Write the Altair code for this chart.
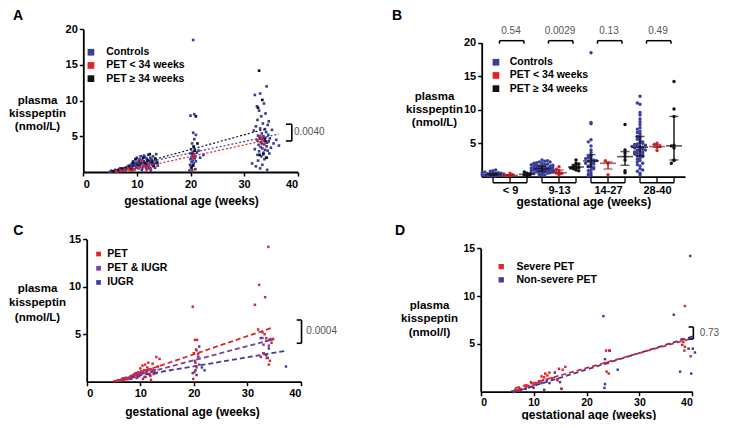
import json
import numpy as np
import pandas as pd
import altair as alt

FONT = "Liberation Sans"

# ---------------- data ----------------
groups_ab = ["Controls", "PET < 34 weeks", "PET \u2265 34 weeks"]

ctrl_early = [
    (5.0, 0.05), (5.3, 0.10), (5.5, 0.10), (5.8, 0.15), (6.0, 0.20), (6.2, 0.20), (6.4, 0.25), (6.6, 0.30),
    (6.8, 0.20), (6.9, 0.50), (7.0, 0.35), (7.1, 0.40), (7.3, 0.30), (7.5, 0.50), (7.6, 0.25), (7.7, 0.45),
    (7.9, 0.60), (8.0, 0.35), (8.2, 0.70), (8.3, 0.50), (8.4, 0.60), (8.5, 0.90), (8.6, 0.40), (8.8, 0.80),
    (8.9, 1.00), (9.0, 0.60), (9.1, 1.20), (9.2, 0.80), (9.2, 0.30), (9.3, 1.50), (9.4, 0.90), (9.5, 1.10),
    (9.6, 0.40), (9.6, 1.00), (9.7, 1.80), (9.8, 1.30), (9.9, 0.70), (10.0, 2.00), (10.0, 0.70), (10.1, 1.00),
    (10.2, 1.40), (10.3, 0.50), (10.4, 1.60), (10.5, 1.20), (10.5, 1.80), (10.6, 0.90), (10.7, 2.20),
    (10.8, 1.10), (10.8, 1.50), (10.9, 0.30), (11.0, 1.70), (11.0, 0.50), (11.1, 1.30), (11.2, 0.80),
    (11.3, 1.50), (11.3, 2.30), (11.4, 1.00), (11.5, 2.10), (11.5, 0.90), (11.6, 1.20), (11.7, 0.60),
    (11.8, 1.90), (11.8, 1.00), (11.9, 1.40), (12.0, 0.90), (12.0, 1.70), (12.1, 2.40), (12.2, 1.10),
    (12.2, 0.50), (12.3, 0.70), (12.4, 1.60), (12.5, 1.30), (12.5, 2.00), (12.6, 0.20), (12.7, 1.80),
    (12.8, 1.00), (12.9, 1.50), (13.0, 2.20), (13.0, 1.10), (13.1, 0.80), (13.3, 1.20), (13.4, 0.60),
    (13.5, 1.70), (13.6, 2.50), (13.7, 1.40), (13.9, 0.90),
]
ctrl_mid = [
    (19.8, 0.2), (19.9, 1.0), (20.0, 1.8), (20.0, 2.6), (20.1, 0.6), (20.1, 3.2), (20.2, 1.4), (20.2, 2.1),
    (20.3, 4.0), (20.3, 0.9), (20.4, 2.8), (20.4, 1.6), (20.5, 5.5), (20.5, 2.3), (20.5, 18.5), (20.6, 3.6),
    (20.6, 1.2), (20.7, 2.5), (20.7, 4.6), (20.8, 1.9), (20.8, 3.0), (20.9, 0.4), (20.9, 2.2), (21.0, 5.2),
    (21.0, 1.5), (20.0, 7.9), (20.7, 8.1), (21.2, 2.7), (21.8, 2.0), (22.4, 2.4), (21.5, 3.0), (20.3, 0.1),
]
ctrl_late = [
    (31.5, 1.2), (31.8, 5.8), (32.0, 10.8), (32.0, 3.2), (32.2, 6.4), (32.2, 0.8), (32.4, 9.2), (32.4, 4.5),
    (32.5, 2.4), (32.5, 7.3), (32.6, 1.6), (32.6, 5.1), (32.7, 3.8), (32.8, 8.6), (32.8, 2.9), (32.9, 4.9),
    (33.0, 0.5), (33.0, 6.1), (33.0, 11.0), (33.1, 3.5), (33.1, 4.2), (33.2, 7.8), (33.2, 2.2), (33.3, 5.4),
    (33.3, 4.0), (33.4, 1.0), (33.4, 3.3), (33.5, 6.8), (33.5, 4.6), (33.6, 2.7), (33.6, 5.0), (33.7, 9.6),
    (33.7, 3.9), (33.8, 4.4), (33.8, 1.8), (33.9, 6.0), (33.9, 3.1), (34.0, 8.2), (34.0, 4.8), (34.1, 2.0),
    (34.1, 5.6), (34.2, 3.6), (34.2, 12.0), (34.3, 4.1), (34.3, 0.3), (34.4, 6.6), (34.4, 3.0), (34.5, 5.2),
    (34.6, 4.3), (34.6, 7.1), (34.7, 2.6), (34.8, 4.7), (35.0, 3.4), (35.2, 5.9), (35.5, 4.0), (36.0, 4.5),
    (36.5, 3.7),
]
pet_lt34 = [
    (6.2, 0.1), (7.0, 0.2), (7.8, 0.3), (8.4, 0.5), (8.8, 0.2), (9.5, 0.4), (10.2, 0.6), (10.8, 1.5),
    (11.3, 0.9), (11.8, 0.3), (12.2, 1.1), (12.6, 0.5), (20.3, 0.3), (20.6, 2.4), (20.5, 2.0),
    (32.5, 4.4), (33.0, 5.0), (33.5, 4.5), (33.8, 3.9), (33.2, 4.8),
]
pet_ge34 = [
    (5.5, 0.1), (6.5, 0.2), (7.2, 0.5), (7.9, 0.3), (8.5, 0.7), (8.9, 0.4), (9.3, 1.3), (9.8, 1.8),
    (10.3, 1.0), (10.7, 1.5), (11.2, 2.0), (11.6, 1.2), (12.0, 1.6), (12.4, 2.5), (12.8, 1.4), (13.1, 0.9),
    (13.4, 1.9), (13.8, 1.3), (20.2, 0.6), (20.5, 0.9), (20.8, 3.0), (21.0, 7.8), (20.4, 2.5), (21.3, 4.0),
    (20.6, 3.5), (32.8, 14.2), (33.4, 10.1), (32.6, 9.0), (33.0, 4.7), (34.0, 4.3), (33.8, 4.6),
    (33.6, 2.5), (34.2, 2.0), (32.9, 2.4),
]
p_a = "0.0040"

b_bins = ["< 9", "9-13", "14-27", "28-40"]
b_edges = [9, 14, 28]
b_pvals = ["0.54", "0.0029", "0.13", "0.49"]

groups_c = ["IUGR", "PET & IUGR", "PET"]
c_iugr = [
    (6.5, 0.2), (7.0, 0.3), (7.8, 0.4), (8.3, 0.3), (8.8, 0.5), (9.3, 0.7), (9.8, 0.6), (10.3, 0.9),
    (10.8, 0.5), (11.3, 1.1), (11.8, 0.7), (12.3, 1.2), (13.0, 0.9), (19.8, 0.9), (20.3, 1.2), (20.5, 0.7),
    (21.0, 3.7), (21.5, 1.5), (22.0, 1.2), (20.8, 2.6), (32.5, 4.6), (33.0, 3.0), (33.5, 2.8), (34.0, 3.5),
    (33.8, 2.5), (37.2, 1.6),
]
c_pet_iugr = [
    (6.0, 0.1), (6.6, 0.15), (7.0, 0.2), (7.5, 0.3), (8.0, 0.3), (8.5, 0.6), (9.0, 0.8), (9.3, 0.4),
    (9.5, 0.5), (10.0, 0.9), (10.5, 1.0), (11.0, 1.2), (11.5, 0.8), (12.0, 1.3), (12.5, 1.1), (20.5, 3.3),
    (20.8, 2.6), (21.0, 1.8), (20.2, 2.2), (32.8, 4.6), (33.5, 4.3), (34.0, 3.8), (34.3, 4.5), (33.0, 3.9),
    (34.5, 4.4),
]
c_pet = [
    (5.2, 0.05), (5.6, 0.1), (6.0, 0.1), (6.3, 0.15), (6.8, 0.2), (7.2, 0.3), (7.6, 0.25), (8.0, 0.4),
    (8.3, 0.6), (8.6, 0.5), (8.9, 0.8), (9.2, 0.9), (9.4, 0.4), (9.6, 1.0), (9.8, 0.7), (10.0, 1.4),
    (10.2, 1.1), (10.4, 1.7), (10.5, 0.3), (10.7, 1.2), (10.9, 1.8), (11.1, 0.9), (11.3, 1.5), (11.5, 2.0),
    (11.7, 1.3), (11.9, 0.6), (12.1, 1.0), (12.3, 1.9), (12.5, 0.8), (12.7, 1.2), (13.0, 2.6), (13.3, 1.6),
    (13.6, 2.4), (12.0, 0.2), (11.0, 0.5), (19.8, 7.9), (20.2, 4.4), (20.6, 4.4), (20.0, 3.0), (20.3, 2.0),
    (19.9, 0.3), (20.5, 1.5), (20.1, 1.0), (20.8, 2.9), (20.4, 3.4), (31.4, 8.1), (32.2, 10.2), (33.3, 8.9),
    (33.9, 14.2), (32.0, 5.5), (32.8, 5.2), (33.5, 4.6), (34.0, 4.4), (34.5, 4.1), (33.6, 2.5), (34.0, 1.8),
    (34.2, 2.2), (33.0, 3.0), (32.5, 2.6), (34.8, 4.5), (33.2, 5.0),
]
legend_c = ["PET", "PET & IUGR", "IUGR"]
p_c = "0.0004"

groups_d = ["Non-severe PET", "Severe PET"]
d_nonsevere = [
    (6.0, 0.05), (6.5, 0.1), (7.5, 0.2), (8.5, 0.3), (9.2, 0.5), (10.0, 0.4), (10.5, 0.8), (11.0, 1.0),
    (11.5, 0.9), (12.0, 0.2), (12.5, 1.2), (13.0, 0.9), (13.5, 1.4), (14.0, 2.0), (14.5, 1.3), (15.0, 1.0),
    (15.3, 0.3), (23.2, 7.9), (24.4, 4.3), (23.5, 3.4), (25.9, 2.3), (23.5, 0.8), (23.4, 0.4),
    (36.5, 8.05), (39.6, 14.2), (37.7, 2.1), (39.8, 1.9), (39.3, 4.5), (40.1, 4.5), (40.5, 4.1),
]
d_severe = [
    (6.5, 0.2), (6.8, 0.1), (7.0, 0.15), (7.2, 0.25), (7.5, 0.3), (8.5, 0.5), (9.0, 0.6), (9.5, 1.0),
    (9.8, 0.5), (10.0, 0.7), (10.5, 0.9), (11.0, 1.1), (11.5, 1.6), (11.8, 1.2), (12.0, 1.5), (12.2, 1.9),
    (12.6, 1.7), (13.0, 2.0), (13.5, 1.4), (14.5, 1.2), (14.8, 2.4), (15.2, 0.3), (15.5, 2.3), (16.0, 2.6),
    (23.7, 4.3), (24.3, 4.3), (23.6, 3.0), (24.0, 3.0), (23.8, 2.1), (24.2, 1.9),
    (38.6, 8.96), (38.0, 5.5), (38.3, 5.2), (38.1, 4.9), (38.6, 4.7), (39.7, 3.7), (38.5, 4.3),
]
legend_d = ["Severe PET", "Non-severe PET"]
p_d = "0.73"

# ---------------- styles / layout ----------------
BLUE, RED, BLACK, PURPLE = "#3c3e9c", "#e2212b", "#111111", "#7d3f9f"
colors_ab = [BLUE, RED, BLACK]
W, H = 714, 412
LAYOUT = {
    "A": {"x": ([0, 40], [75.3, 289.7]), "y": ([0, 20], [164.0, 21.3])},
    "B": {"x": ([-0.578, 3.571], [473.7, 677.0]), "y": ([0, 20], [168.7, 34.7])},
    "C": {"x": ([0, 40], [78.7, 293.0]), "y": ([0, 15], [373.7, 231.3])},
    "D": {"x": ([0, 40], [472.7, 684.3]), "y": ([0, 15], [383.7, 240.3])},
}


def frame(pair_lists, groups):
    rows = []
    for gi, (g, pairs) in enumerate(zip(groups, pair_lists)):
        for a, v in pairs:
            rows.append({"group": g, "gi": gi, "age": a, "kp": v})
    return pd.DataFrame(rows)


df_ab = frame([ctrl_early + ctrl_mid + ctrl_late, pet_lt34, pet_ge34], groups_ab)
df_ab["bin"] = np.digitize(df_ab["age"], b_edges)
df_ab["z"] = df_ab["gi"].map({0: 0, 2: 1, 1: 2})
df_a = df_ab.sort_values("z", kind="stable")
df_c = frame([c_iugr, c_pet_iugr, c_pet], groups_c)
df_d = frame([d_nonsevere, d_severe], groups_d)
df_bp = pd.DataFrame({"bin": list(range(len(b_bins))), "p": b_pvals})
ONE = pd.DataFrame({"n": [1]})


def sc(p, ch):
    dom, rng = LAYOUT[p][ch]
    return alt.Scale(domain=dom, range=rng, nice=False, zero=False)


def X(p, field, axis=None):
    return alt.X(field, type="quantitative", scale=sc(p, "x"), axis=axis)


def Y(p, field, axis=None):
    return alt.Y(field, type="quantitative", scale=sc(p, "y"), axis=axis)


def XD(p, v):
    return alt.XDatum(v, type="quantitative", scale=sc(p, "x"), axis=None)


def YD(p, v):
    return alt.YDatum(v, type="quantitative", scale=sc(p, "y"), axis=None)


def x_axis(p, title, tx, ty, values, **kw):
    y0 = LAYOUT[p]["y"][1][0]
    return alt.Axis(orient="bottom", offset=y0 - H, values=values, title=title,
                    titleX=tx, titleY=ty - y0, titleAlign="center", titleBaseline="middle", **kw)


def y_axis(p, title, tx, ty, values, lh=13, **kw):
    x0 = LAYOUT[p]["x"][1][0]
    return alt.Axis(orient="left", offset=-x0, values=values, title=title, titleAngle=0,
                    titleX=tx - x0, titleY=ty, titleAlign="center", titleBaseline="middle",
                    titleLineHeight=lh, titleFontSize=11.5, **kw)


def legend(x, y, size, offset, row_pad):
    return alt.Legend(orient="none", legendX=x, legendY=y, title=None, symbolType="square",
                      symbolSize=size, labelFont=FONT, labelFontSize=10.5, labelFontWeight="bold",
                      labelColor="black", labelOffset=offset, rowPadding=row_pad, padding=0,
                      symbolStrokeWidth=0, symbolOpacity=1)


def bracket(p, xv, xt, y0, y1, label, xl, yl):
    base = alt.Chart(ONE)
    rule = dict(strokeWidth=1.6, color="black")
    return [
        base.mark_rule(**rule).encode(x=XD(p, xv), y=YD(p, y0), y2=alt.Y2Datum(y1)),
        base.mark_rule(**rule).encode(x=XD(p, xt), x2=alt.X2Datum(xv), y=YD(p, y0)),
        base.mark_rule(**rule).encode(x=XD(p, xt), x2=alt.X2Datum(xv), y=YD(p, y1)),
        base.mark_text(text=label, align="left", baseline="middle", fontSize=10, color="#555555",
                       font=FONT).encode(x=XD(p, xl), y=YD(p, yl)),
    ]


def letter(t, x, y):
    return alt.Chart(ONE).mark_text(text=t, fontSize=14, fontWeight="bold", align="center",
                                    baseline="top", font=FONT).encode(x=alt.value(x), y=alt.value(y))


YTITLE = ["plasma", "kisspeptin", "(nmol/L)"]
XTITLE = "gestational age (weeks)"
layers = []

# ---------------- panel A ----------------
col_ab = lambda lg: alt.Color("group:N", scale=alt.Scale(domain=groups_ab, range=colors_ab), legend=lg)
layers.append(
    alt.Chart(df_a).mark_square(size=7, opacity=1).encode(
        x=X("A", "age", x_axis("A", XTITLE, 183, 192, [0, 10, 20, 30, 40])),
        y=Y("A", "kp", y_axis("A", YTITLE, 29, 92, [5, 10, 15, 20])),
        color=col_ab(legend(77.7, 39, 45, 10, 2.2)),
    )
)
layers.append(
    alt.Chart(df_ab).transform_regression("age", "kp", groupby=["group"]).mark_line(
        strokeDash=[2, 2], strokeWidth=1.2).encode(x=X("A", "age"), y=Y("A", "kp"), color=col_ab(None))
)
layers += bracket("A", 38.9, 37.8, 4.35, 6.7, p_a, 39.3, 5.55)
layers.append(letter("A", 10, 1))

# ---------------- panel B ----------------
SUB, STEP, VBIN = 0.347, 0.055, 0.4
bexpr = f"datum.bin + (datum.gi - 1) * {SUB}"
b_label_expr = json.dumps(b_bins, ensure_ascii=False) + "[datum.value]"
layers.append(
    alt.Chart(df_ab)
    .transform_calculate(vb=f"floor(datum.kp / {VBIN})")
    .transform_window(rn="row_number()", groupby=["bin", "gi", "vb"], sort=[alt.SortField("age")])
    .transform_calculate(
        bx=bexpr + f" + ((datum.rn % 2 == 0) ? -1 : 1) * (floor(datum.rn / 2) % 5) * {STEP}"
           " + (floor(datum.rn / 10) % 2) * 0.5 * " + str(STEP)
    )
    .mark_circle(size=12, opacity=1)
    .encode(
        x=X("B", "bx", x_axis("B", XTITLE, 575.3, 193.7, [0, 1, 2, 3], labelExpr=b_label_expr,
                              tickSize=0, labelPadding=8)),
        y=Y("B", "kp", y_axis("B", YTITLE, 426, 88.7, [5, 10, 15, 20])),
        color=col_ab(legend(482.7, 49, 45, 8.5, 2.2)),
    )
)
bar_col = alt.Color("group:N", scale=alt.Scale(domain=groups_ab, range=[BLACK, "#a11c22", BLACK]), legend=None)
b_stats = alt.Chart(df_ab).transform_aggregate(
    q1="q1(kp)", q3="q3(kp)", med="median(kp)", groupby=["bin", "gi", "group"]
).transform_calculate(bx=bexpr)
layers.append(b_stats.mark_rule(strokeWidth=1.4).encode(x=X("B", "bx"), y=Y("B", "q1"), y2="q3", color=bar_col))
layers.append(b_stats.mark_tick(orient="horizontal", size=16, thickness=1.6).encode(
    x=X("B", "bx"), y=Y("B", "med"), color=bar_col))
layers.append(b_stats.mark_tick(orient="horizontal", size=9, thickness=1.4).encode(
    x=X("B", "bx"), y=Y("B", "q1"), color=bar_col))
layers.append(b_stats.mark_tick(orient="horizontal", size=9, thickness=1.4).encode(
    x=X("B", "bx"), y=Y("B", "q3"), color=bar_col))
layers.append(
    alt.Chart(df_ab).transform_aggregate(n="count()", groupby=["bin", "gi"]).transform_calculate(bx=bexpr)
    .mark_rule(strokeWidth=1.3, color="black").encode(x=X("B", "bx"), y=YD("B", 0), y2=alt.Y2Datum(-0.9))
)
layers.append(
    alt.Chart(df_ab).transform_aggregate(n="count()", groupby=["bin"])
    .transform_calculate(xl=f"datum.bin - {SUB}", xr=f"datum.bin + {SUB}")
    .mark_rule(strokeWidth=1.3, color="black").encode(x=X("B", "xl"), x2="xr", y=YD("B", -0.9))
)
bp = alt.Chart(df_bp).transform_calculate(xl="datum.bin - 0.215", xr="datum.bin + 0.285", xc="datum.bin + 0.02")
layers.append(bp.mark_rule(strokeWidth=1.5, color="black").encode(x=X("B", "xl"), x2="xr", y=YD("B", 20.3)))
layers.append(bp.mark_rule(strokeWidth=1.5, color="black").encode(x=X("B", "xl"), y=YD("B", 20.3), y2=alt.Y2Datum(19.85)))
layers.append(bp.mark_rule(strokeWidth=1.5, color="black").encode(x=X("B", "xr"), y=YD("B", 20.3), y2=alt.Y2Datum(19.85)))
layers.append(bp.mark_text(fontSize=10, color="#555555", font=FONT, baseline="middle").encode(
    x=X("B", "xc"), y=YD("B", 21.8), text="p:N"))
layers.append(letter("B", 389, 1))

# ---------------- panel C ----------------
col_c = lambda lg: alt.Color("group:N", scale=alt.Scale(domain=legend_c, range=[RED, PURPLE, BLUE]), legend=lg)
layers.append(
    alt.Chart(df_c).mark_square(size=6, opacity=1).encode(
        x=X("C", "age", x_axis("C", XTITLE, 184, 403.7, [0, 10, 20, 30, 40])),
        y=Y("C", "kp", y_axis("C", YTITLE, 29, 280, [5, 10, 15], lh=14.5)),
        color=col_c(legend(85.3, 240.8, 22, 3.5, 3.2)),
    )
)
layers.append(
    alt.Chart(df_c).transform_regression("age", "kp", groupby=["group"]).mark_line(
        strokeDash=[5, 3], strokeWidth=1.8).encode(x=X("C", "age"), y=Y("C", "kp"), color=col_c(None))
)
layers += bracket("C", 40.1, 39.2, 4.05, 6.5, p_c, 41.0, 5.3)
layers.append(letter("C", 10.3, 216))

# ---------------- panel D ----------------
col_d = lambda lg: alt.Color("group:N", scale=alt.Scale(domain=legend_d, range=[RED, BLUE]), legend=lg)
layers.append(
    alt.Chart(df_d).mark_square(size=6, opacity=1).encode(
        x=X("D", "age", x_axis("D", XTITLE, 580.3, 406, [0, 10, 20, 30, 40], labelFontSize=10.5)),
        y=Y("D", "kp", y_axis("D", ["plasma", "kisspeptin", "(nmol/l)"], 421, 297.3, [5, 10, 15],
                              lh=13.5, labelFontSize=10.5)),
        color=col_d(legend(488, 253.4, 28, 10, 2.2)),
    )
)
layers.append(
    alt.Chart(df_d).transform_regression("age", "kp", groupby=["group"]).mark_line(
        strokeDash=[5, 3], strokeWidth=1.8).encode(x=X("D", "age"), y=Y("D", "kp"), color=col_d(None))
)
layers += bracket("D", 40.2, 39.3, 5.51, 6.77, p_d, 41.4, 6.14)
layers.append(letter("D", 392, 216))

chart = (
    alt.layer(*layers)
    .resolve_scale(x="independent", y="independent", color="independent")
    .properties(width=W, height=H, autosize=alt.AutoSizeParams(type="none"), padding=0)
    .configure_view(stroke=None)
    .configure_axis(
        grid=False, domainColor="black", domainWidth=1.8, tickColor="black", tickWidth=1.5, tickSize=4,
        labelFont=FONT, labelFontSize=11, labelFontWeight="bold", labelColor="black", labelPadding=2,
        titleFont=FONT, titleFontSize=12, titleFontWeight="bold", titleColor="black",
    )
)
chart.save("out.html", embed_options={"renderer": "svg", "actions": False})
